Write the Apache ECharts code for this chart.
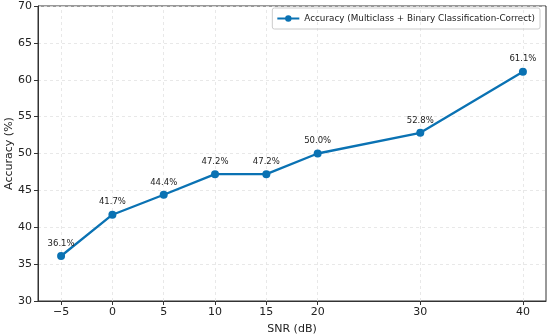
<!DOCTYPE html>
<html><head><meta charset="utf-8">
<script src="https://cdn.jsdelivr.net/npm/echarts@6/dist/echarts.min.js"></script>
<style>html,body{margin:0;padding:0;background:#fff}#c{width:550px;height:336px}</style>
</head><body><div id="c"></div>
<script>
const snr = [-5, 0, 5, 10, 15, 20, 30, 40];
const accuracy = [36.1, 41.7, 44.4, 47.2, 47.2, 50.0, 52.8, 61.1];
const xTicks = [-5, 0, 5, 10, 15, 20, 30, 40];
const seriesName = 'Accuracy (Multiclass + Binary Classification-Correct)';
const color = '#0a72b3';
const font = 'DejaVu Sans';

const chart = echarts.init(document.getElementById('c'));
chart.setOption({
  animation: false,
  grid: {left: 38, right: 4, top: 6, bottom: 35, containLabel: false, outerBoundsMode: 'none',
    show: true, borderColor: '#333', borderWidth: 1},
  legend: {
    right: 10, top: 8, padding: [6, 5, 6, 4], itemWidth: 22, itemHeight: 8, itemGap: 5,
    borderColor: '#ccc', borderWidth: 1, borderRadius: 2,
    textStyle: {fontFamily: font, fontSize: 8.8, color: '#222'},
    data: [seriesName]
  },
  xAxis: {
    type: 'value', min: -7.25, max: 42.25,
    name: 'SNR (dB)', nameLocation: 'middle', nameGap: 23, nameMoveOverlap: false,
    nameTextStyle: {fontFamily: font, fontSize: 11, color: '#222'},
    axisLine: {show: true, onZero: false, lineStyle: {color: '#333'}},
    axisTick: {show: true, length: 4, lineStyle: {color: '#333'}, customValues: xTicks},
    axisLabel: {fontFamily: font, fontSize: 11, color: '#222', margin: 6, customValues: xTicks,
      formatter: v => (v < 0 ? '\u2212' + Math.abs(v) : String(v))},
    splitLine: {show: false}
  },
  yAxis: {
    type: 'value', min: 30, max: 70, interval: 5,
    name: 'Accuracy (%)', nameLocation: 'middle', nameGap: 23, nameMoveOverlap: false,
    nameTextStyle: {fontFamily: font, fontSize: 11, color: '#222'},
    axisLine: {show: true, onZero: false, lineStyle: {color: '#333'}},
    axisTick: {show: true, length: 4, lineStyle: {color: '#333'}},
    axisLabel: {fontFamily: font, fontSize: 11, color: '#222', margin: 6},
    splitLine: {show: true, lineStyle: {color: '#e2e2e2', type: [3, 3], width: 0.8}}
  },
  series: [{
    name: seriesName, type: 'line',
    data: snr.map((x, i) => [x, accuracy[i]]),
    symbol: 'circle', symbolSize: 8,
    lineStyle: {color: color, width: 2.3},
    itemStyle: {color: color, borderWidth: 0},
    label: {show: true, position: 'top', distance: 4, fontFamily: font, fontSize: 8.5, color: '#222',
      formatter: p => p.value[1].toFixed(1) + '%'},
    markLine: {
      silent: true, symbol: 'none', label: {show: false}, z: 0, zlevel: 0,
      lineStyle: {color: '#e2e2e2', type: [3, 3], width: 0.8},
      data: xTicks.map(v => ({xAxis: v}))
    },
    z: 3
  }]
});
</script></body></html>
